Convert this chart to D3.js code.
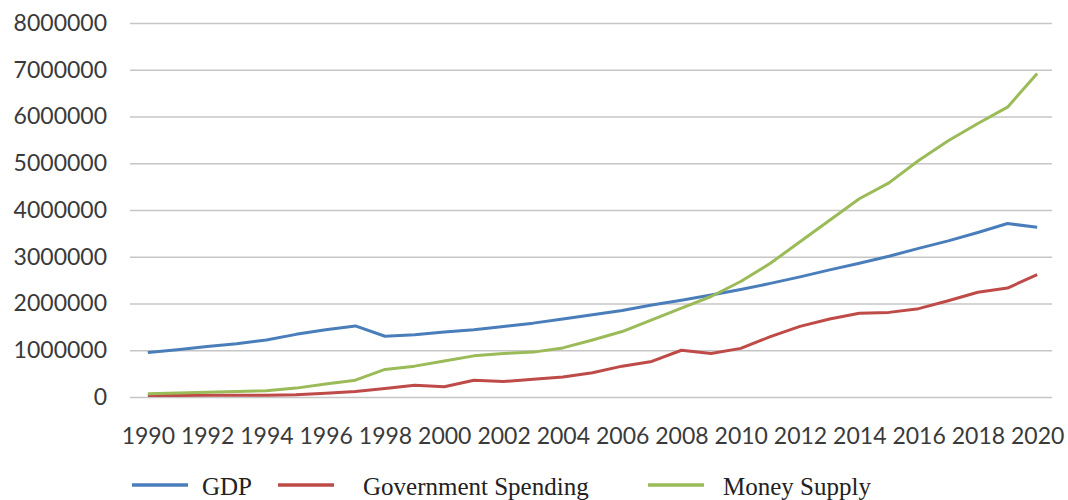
<!DOCTYPE html>
<html>
<head>
<meta charset="utf-8">
<script src="https://cdn.jsdelivr.net/npm/d3@7"></script>
<style>
  html, body { margin: 0; padding: 0; background: #ffffff; }
  svg { display: block; }
</style>
</head>
<body>
<svg id="chart" width="1068" height="500"></svg>
<script>
// ---- data ----
const years = [1990,1991,1992,1993,1994,1995,1996,1997,1998,1999,2000,2001,2002,2003,2004,2005,2006,2007,2008,2009,2010,2011,2012,2013,2014,2015,2016,2017,2018,2019,2020];
const gdp = [950000,1010000,1080000,1140000,1220000,1340000,1440000,1520000,1300000,1330000,1390000,1440000,1510000,1580000,1670000,1760000,1850000,1970000,2070000,2180000,2300000,2430000,2570000,2720000,2860000,3010000,3180000,3340000,3520000,3710000,3630000];
const govSpending = [30000,32000,35000,38000,40000,50000,80000,120000,180000,250000,220000,360000,330000,380000,430000,520000,660000,760000,1000000,930000,1040000,1290000,1510000,1670000,1790000,1810000,1890000,2060000,2240000,2330000,2620000];
const moneySupply = [70000,85000,100000,115000,135000,190000,280000,360000,590000,660000,770000,880000,930000,960000,1050000,1220000,1400000,1650000,1900000,2150000,2470000,2860000,3320000,3780000,4240000,4580000,5060000,5480000,5850000,6200000,6920000];
const seriesNames = ["GDP", "Government Spending", "Money Supply"];
const yTicks = [0,1000000,2000000,3000000,4000000,5000000,6000000,7000000,8000000];
const xTickLabels = [1990,1992,1994,1996,1998,2000,2002,2004,2006,2008,2010,2012,2014,2016,2018,2020];

// ---- styles ----
const colors = ["#4a7ebb", "#be4b48", "#9bbb59"];
const seriesValues = [gdp, govSpending, moneySupply];

const svg = d3.select("#chart");
const plotLeft = 130, plotRight = 1052, plotTop = 23, plotBottom = 397;

const x = d3.scalePoint().domain(years).range([plotLeft + 3, plotRight]).padding(0.5);
const y = d3.scaleLinear().domain([0, 8000000]).range([plotBottom, plotTop]);

// y axis with gridlines
const yAxis = svg.append("g")
  .attr("transform", `translate(${plotLeft},0)`)
  .call(d3.axisLeft(y).tickValues(yTicks).tickFormat(d3.format("d"))
        .tickSizeInner(-(plotRight - plotLeft)).tickSizeOuter(0).tickPadding(23));
yAxis.select(".domain").remove();
yAxis.selectAll(".tick line").attr("stroke", "#c6c6c6").attr("stroke-width", 1.6);
yAxis.selectAll(".tick text")
  .attr("fill", "#3a3a3a")
  .style("font-family", "Lato, 'Open Sans', sans-serif")
  .style("font-size", "23px");

// x axis labels
const xAxis = svg.append("g")
  .attr("transform", `translate(0,${plotBottom})`)
  .call(d3.axisBottom(x).tickValues(xTickLabels).tickFormat(d => String(d))
        .tickSize(0).tickPadding(31));
xAxis.select(".domain").remove();
xAxis.selectAll(".tick text")
  .attr("fill", "#3a3a3a")
  .style("font-family", "Lato, 'Open Sans', sans-serif")
  .style("font-size", "23px");

// lines
const line = d3.line().x((d, i) => x(years[i])).y(d => y(d));
seriesValues.forEach((vals, k) => {
  svg.append("path")
    .datum(vals)
    .attr("fill", "none")
    .attr("stroke", colors[k])
    .attr("stroke-width", 3)
    .attr("stroke-linejoin", "round")
    .attr("d", line);
});

// legend
const legendLineX = [132, 278, 648];
const legendTextX = [202, 363, 723];
const legendY = 485;
seriesNames.forEach((name, k) => {
  svg.append("line")
    .attr("x1", legendLineX[k]).attr("x2", legendLineX[k] + 56)
    .attr("y1", legendY).attr("y2", legendY)
    .attr("stroke", colors[k]).attr("stroke-width", 3.5);
  svg.append("text")
    .attr("x", legendTextX[k]).attr("y", legendY + 10)
    .attr("fill", "#222")
    .style("font-family", "'Liberation Serif', 'Times New Roman', serif")
    .style("font-size", "25px")
    .text(name);
});
</script>
</body>
</html>
